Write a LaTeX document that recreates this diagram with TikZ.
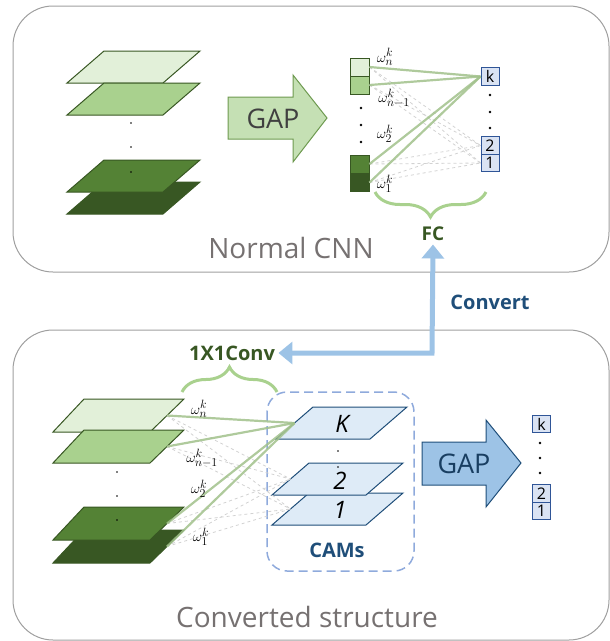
\documentclass[tikz,border=0pt]{standalone}
\usepackage{fontspec}
\setmainfont{Open Sans}
\DeclareMathSizes{15}{15}{11.5}{9}
\usetikzlibrary{arrows.meta,decorations.pathreplacing,positioning}

\definecolor{gA}{HTML}{E2F0D9}
\definecolor{gB}{HTML}{A9D18E}
\definecolor{gC}{HTML}{548235}
\definecolor{gD}{HTML}{385723}
\definecolor{gapgreen}{HTML}{C5E0B4}
\definecolor{gapline}{HTML}{6E9A50}
\definecolor{bfill}{HTML}{DAE3F3}
\definecolor{bline}{HTML}{2F5597}
\definecolor{camfill}{HTML}{DEEBF7}
\definecolor{camline}{HTML}{1F4E79}
\definecolor{lightblue}{HTML}{9DC3E6}
\definecolor{dashblue}{HTML}{8FAADC}
\definecolor{titlegray}{HTML}{767171}

\tikzset{
  panel/.style={draw=gray!75, line width=1pt, rounded corners=40pt},
  sheet/.style={draw=gD, line width=1pt},
  camsheet/.style={draw=camline, line width=1pt, fill=camfill},
  vbox/.style={draw=gD, line width=1pt, minimum width=19pt, minimum height=18pt, inner sep=0pt},
  cbox/.style={draw=bline, line width=1pt, fill=bfill, minimum width=18pt, minimum height=17.5pt,
    inner sep=0pt, font=\fontsize{16}{16}\selectfont},
  wlink/.style={draw=gB!80!gray, line width=2.2pt, opacity=0.85},
  dlink/.style={draw=gray!35, dashed, line width=0.8pt},
  wlabel/.style={font=\fontsize{15}{15}\selectfont, inner sep=0pt},
  gbrace/.style={draw=gB, line width=3pt, decorate, decoration={brace, amplitude=25pt}},
  title/.style={text=titlegray, font=\fontsize{28}{28}\selectfont},
  convert/.style={draw=lightblue, line width=5pt, {Triangle[width=22pt,length=14pt]}-{Triangle[width=22pt,length=14pt]}},
}

\begin{document}
\begin{tikzpicture}[x=1pt,y=-1pt]
\useasboundingbox (0,0) rectangle (610,641);

% panels
\draw[panel] (13,6) rectangle (609,272);
\draw[panel] (13,330) rectangle (609,640);
\node[title] (normal) at (291,248) {Normal CNN};
\node[title] (converted) at (307,617) {Converted structure};

% feature maps, normal CNN
\foreach \yb/\c in {83/gA, 115/gB, 214/gD, 192/gC}
  \draw[sheet, fill=\c] (67,\yb) -- (163,\yb) -- (200,\yb-32) -- (104,\yb-32) -- cycle;
\foreach \y in {123,147,172} \fill (131,\y) circle (0.8pt);

% GAP
\draw[fill=gapgreen, draw=gapline, line width=1pt] (228,97) -- (293,97) -- (293,75) -- (327,118)
  -- (293,162) -- (293,139) -- (228,139) -- cycle;
\node[text=black!75, font=\fontsize{27}{27}\selectfont] (gap) at (273,119) {GAP};

% pooled vector and classes
\node[vbox, fill=gA] (vn) at (359.5,67) {};
\node[vbox, fill=gB] (vm) at (359.5,85) {};
\node[vbox, fill=gC] (v2) at (359.5,164) {};
\node[vbox, fill=gD] (v1) at (359.5,182.5) {};
\foreach \y in {108,125,142} \fill (361,\y) circle (1.3pt);

\node[cbox] (ck) at (490,76.5) {k};
\node[cbox] (c2) at (490,145.5) {2};
\node[cbox] (c1) at (490,163) {1};
\foreach \y in {95,112,128} \fill (490,\y) circle (1.3pt);

\foreach \v in {vn,vm,v2,v1} {
  \draw[dlink] (\v.east) -- (c2.west);
  \draw[dlink] (\v.east) -- (c1.west);
}
\foreach \v in {vn,vm,v2,v1} \draw[wlink] (\v.east) -- (ck.west);

\node[wlabel] (wn) at (385,57) {$\omega_n^k$};
\node[wlabel] (wm) at (394,98) {$\omega_{n-1}^k$};
\node[wlabel] (w2) at (385,134) {$\omega_2^k$};
\node[wlabel] (w1) at (385,184) {$\omega_1^k$};

\draw[gbrace] (486,192) -- (375,192);
\node[text=gD, font=\bfseries\fontsize{19}{19}\selectfont] (fc) at (433,234) {FC};

% convert
\coordinate (corner) at (432,353);
\node[text=gD, font=\bfseries\fontsize{20}{20}\selectfont] (conv) at (232,353) {1X1Conv};
\draw[convert] (conv.east) -- (corner) -- (fc.south);
\node[text=camline, font=\bfseries\fontsize{20}{20}\selectfont] (convert) at (490,302) {Convert};

% feature maps, converted structure
\foreach \yb/\c/\n in {432/gA/a, 463/gB/b, 563/gD/d, 540/gC/c} {
  \draw[sheet, fill=\c] (53,\yb) -- (150,\yb) -- (184,\yb-33) -- (84,\yb-33) -- cycle;
  \coordinate (s\n) at (167,\yb-16.5);
}
\foreach \y in {472,496,520} \fill (117,\y) circle (0.8pt);

\draw[gbrace] (182,392) -- (277,392);

% CAMs
\draw[draw=dashblue, line width=1.5pt, dash pattern=on 9pt off 5pt, rounded corners=20pt]
  (267,392) rectangle (414,571);
\draw[camsheet] (276,439) -- (370,439) -- (407,407) -- (313,407) -- cycle;
\draw[camsheet] (272,525) -- (366,525) -- (403,493) -- (309,493) -- cycle;
\draw[camsheet] (272,495) -- (366,495) -- (403,463) -- (309,463) -- cycle;
\coordinate (K-w) at (294.5,423);
\coordinate (two-w) at (290.5,479);
\coordinate (one-w) at (290.5,509);
\node[font=\itshape\fontsize{24}{24}\selectfont] (K) at (342,424) {K};
\node[font=\itshape\fontsize{24}{24}\selectfont] (two) at (340,481) {2};
\node[font=\itshape\fontsize{24}{24}\selectfont] (one) at (340,510) {1};
\foreach \y in {451,467} \fill (338,\y) circle (0.9pt);
\node[text=camline, font=\bfseries\fontsize{20}{20}\selectfont] (cams) at (337,550) {CAMs};

\foreach \s in {sa,sb,sc,sd} {
  \draw[dlink] (\s) -- (two-w);
  \draw[dlink] (\s) -- (one-w);
}
\foreach \s in {sa,sb,sc,sd} \draw[wlink] (\s) -- (K-w);

\node[wlabel] (wn2) at (199,409) {$\omega_n^k$};
\node[wlabel] (wm2) at (202,458) {$\omega_{n-1}^k$};
\node[wlabel] (w22) at (199,489) {$\omega_2^k$};
\node[wlabel] (w12) at (201,537) {$\omega_1^k$};

% GAP on CAMs
\draw[fill=lightblue, draw=camline, line width=1pt] (422,442) -- (486,442) -- (486,420) -- (521,463)
  -- (486,507) -- (486,485) -- (422,485) -- cycle;
\node[text=camline!80!black, font=\fontsize{27}{27}\selectfont] (gap2) at (464,464) {GAP};

\node[cbox] (dk) at (541.5,424) {k};
\node[cbox] (d2) at (541.5,493.5) {2};
\node[cbox] (d1) at (541.5,511) {1};
\foreach \y in {443,458,473} \fill (540,\y) circle (1.3pt);
\end{tikzpicture}
\end{document}
